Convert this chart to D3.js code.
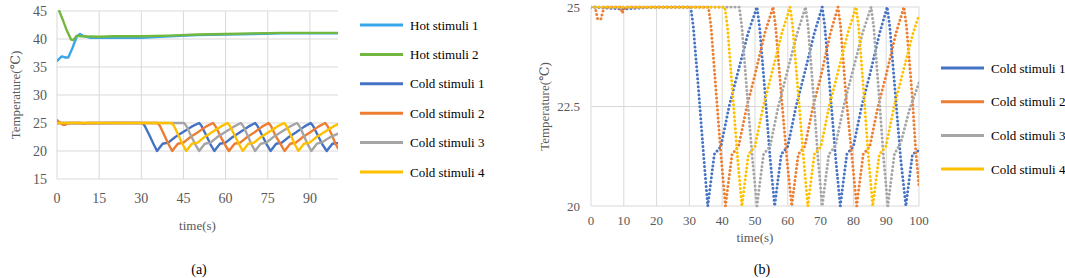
<!DOCTYPE html>
<html>
<head>
<meta charset="utf-8">
<script src="https://cdn.jsdelivr.net/npm/d3@7"></script>
<style>
  body { margin: 0; background: #fff; }
  svg text { font-family: 'Liberation Serif', 'DejaVu Serif', serif; }
</style>
</head>
<body>
<svg width="1065" height="278"></svg>
<script>
// axis ticks
const timeTicksA = [0, 15, 30, 45, 60, 75, 90];
const tempTicksA = [15, 20, 25, 30, 35, 40, 45];
const timeTicksB = [0, 10, 20, 30, 40, 50, 60, 70, 80, 90, 100];
const tempTicksB = [20, 22.5, 25];

const namesA = ["Hot stimuli 1", "Hot stimuli 2", "Cold stimuli 1", "Cold stimuli 2", "Cold stimuli 3", "Cold stimuli 4"];
const namesB = ["Cold stimuli 1", "Cold stimuli 2", "Cold stimuli 3", "Cold stimuli 4"];

// [time(s), temperature(℃)]
const hot1 = [[0,36.1],[1.7,36.9],[3,36.7],[4,36.7],[5.5,38.4],[7,40.4],[8.2,40.9],[9.5,40.5],[12,40.2],[20,40.2],[30,40.2],[40,40.5],[50,40.7],[60,40.8],[70,40.9],[80,41],[100,41]];
const hot2 = [[0.8,45],[2,43.5],[3.5,41.5],[5,39.9],[5.8,39.8],[7,40.6],[8.5,40.5],[15,40.4],[20,40.5],[30,40.5],[40,40.6],[50,40.8],[60,40.9],[70,41],[80,41.1],[100,41.1]];

const cold1 = [[0,25],[10,24.95],[20,25],[30.4,25],
  [31.2,24.5],[32.9,22.8],[34.4,21.2],[35.6,20],
  [36.2,20.4],[37.6,21.3],[39.6,21.5],[42.1,22.5],[44.6,23.3],[47.9,24.35],[50.6,25],
  [51.4,24.5],[53.1,22.8],[54.6,21.2],[56,20],
  [56.6,20.4],[58,21.3],[60,21.5],[62.5,22.5],[65,23.3],[68.1,24.35],[70.5,25],
  [71.3,24.5],[73,22.8],[74.6,21.2],[76,20],
  [76.6,20.4],[78,21.3],[80,21.5],[82.5,22.5],[85,23.3],[88,24.35],[90.3,25],
  [91.1,24.5],[92.8,22.8],[94.4,21.2],[96,20],
  [96.6,20.4],[98,21.3],[100,21.4]];

const cold2 = [[0,25.5],[1,25.1],[2,24.7],[3,24.7],[4,25],[9,25],[9.5,24.85],[10.5,25],[20,25],[35.8,25],
  [36.6,24.5],[38.2,22.8],[39.7,21.2],[41,20],
  [41.6,20.4],[43,21.3],[45,21.5],[47.5,22.5],[50,23.3],[53,24.35],[55.5,25],
  [56.3,24.5],[58,22.8],[59.7,21.2],[61.2,20],
  [61.8,20.4],[63.2,21.3],[65.2,21.5],[67.7,22.5],[70.2,23.3],[73,24.35],[75.3,25],
  [76.1,24.5],[77.7,22.8],[79.6,21.2],[81,20],
  [81.6,20.4],[83,21.3],[85,21.5],[87.5,22.5],[90,23.3],[93,24.35],[95.4,25],
  [96.2,24.5],[97.9,22.8],[99,21.4],[100,20.5]];

const cold3 = [[0,25],[20,25],[45.2,25],
  [46,24.5],[47.6,22.8],[49.2,21.2],[50.6,20],
  [51.2,20.4],[52.6,21.3],[54.6,21.5],[57.1,22.5],[59.6,23.3],[62.9,24.35],[65.4,25],
  [66.2,24.5],[67.8,22.8],[69.2,21.2],[70.5,20],
  [71.1,20.4],[72.5,21.3],[74.5,21.5],[77,22.5],[79.5,23.3],[82.8,24.35],[85.4,25],
  [86.2,24.5],[87.8,22.8],[89.2,21.2],[90.5,20],
  [91.1,20.4],[92.5,21.3],[94.5,21.6],[97,22.4],[100,23.1]];

const cold4 = [[0,25],[20,25],[40.8,25],
  [41.6,24.5],[43.2,22.8],[44.7,21.2],[46,20],
  [46.6,20.4],[48,21.3],[50,21.5],[52.5,22.5],[55,23.3],[58.2,24.35],[60.7,25],
  [61.5,24.5],[63.2,22.8],[64.8,21.2],[66.1,20],
  [66.7,20.4],[68.1,21.3],[70.1,21.5],[72.6,22.5],[75.1,23.3],[78.3,24.35],[80.8,25],
  [81.6,24.5],[83.2,22.8],[84.6,21.2],[85.9,20],
  [86.5,20.4],[87.9,21.3],[89.9,21.5],[92.4,22.5],[94.9,23.3],[98.2,24.35],[100,24.8]];

const colorsA = ["#3aa6ea", "#72b83e", "#4472c4", "#ed7d31", "#a5a5a5", "#ffc000"];
const colorsB = ["#4472c4", "#ed7d31", "#a5a5a5", "#ffc000"];
const font = "'Liberation Serif', 'DejaVu Serif', serif";

const svg = d3.select("svg");
svg.append("rect").attr("width", 1065).attr("height", 278).attr("fill", "#fff");

function drawPanel(o) {
  const x = d3.scaleLinear().domain(o.xDomain).range([o.left, o.right]);
  const y = d3.scaleLinear().domain(o.yDomain).range([o.bottom, o.top]);
  const g = svg.append("g").attr("font-family", font);

  // grid
  g.selectAll(".gx").data(o.xTicks).enter().append("line")
    .attr("x1", d => x(d)).attr("x2", d => x(d))
    .attr("y1", o.top).attr("y2", o.bottom)
    .attr("stroke", "#d9d9d9").attr("stroke-width", 1);
  g.selectAll(".gy").data(o.yTicks).enter().append("line")
    .attr("x1", o.left).attr("x2", o.right)
    .attr("y1", d => y(d)).attr("y2", d => y(d))
    .attr("stroke", "#d9d9d9").attr("stroke-width", 1);

  // tick labels
  g.selectAll(".tx").data(o.xTicks).enter().append("text")
    .attr("x", d => x(d)).attr("y", o.xLabelY)
    .attr("text-anchor", "middle").attr("font-size", o.tickSize).attr("fill", "#595959")
    .text(d => d);
  g.selectAll(".ty").data(o.yTicks).enter().append("text")
    .attr("x", o.yLabelX).attr("y", d => y(d)).attr("dy", "0.35em")
    .attr("text-anchor", "end").attr("font-size", o.tickSize).attr("fill", "#595959")
    .text(d => d);

  // axis titles
  g.append("text").attr("x", (o.left + o.right) / 2).attr("y", o.xTitleY)
    .attr("text-anchor", "middle").attr("font-size", 13).attr("fill", "#595959").text("time(s)");
  g.append("text")
    .attr("transform", `translate(${o.yTitleX},${(o.top + o.bottom) / 2}) rotate(-90)`)
    .attr("text-anchor", "middle").attr("font-size", 13).attr("fill", "#595959").text("Temperature(℃)");
  g.append("text").attr("x", o.capX).attr("y", 274)
    .attr("text-anchor", "middle").attr("font-size", 14).attr("fill", "#000").text(o.caption);

  // series
  const clipId = "clip" + o.caption.replace(/\W/g, "");
  svg.append("clipPath").attr("id", clipId).append("rect")
    .attr("x", o.left).attr("y", o.top - 1.5)
    .attr("width", o.right - o.left).attr("height", o.bottom - o.top + 3);
  const line = d3.line().x(d => x(d[0])).y(d => y(d[1]));
  g.append("g").attr("clip-path", `url(#${clipId})`)
    .selectAll("path").data(o.series).enter().append("path")
    .attr("d", d => line(d))
    .attr("fill", "none")
    .attr("stroke", (d, i) => o.colors[i])
    .attr("stroke-width", o.dotted ? 3 : 2.4)
    .attr("stroke-linecap", "round")
    .attr("stroke-linejoin", "round")
    .attr("stroke-dasharray", o.dotted ? "0 4" : null);

  // legend
  const lg = g.selectAll(".lg").data(o.names).enter().append("g")
    .attr("transform", (d, i) => `translate(0,${o.legTop + i * o.legStep})`);
  lg.append("line").attr("x1", o.legX).attr("x2", o.legX + 43)
    .attr("stroke", (d, i) => o.colors[i]).attr("stroke-width", 3);
  lg.append("text").attr("x", o.legX + 50).attr("dy", "0.35em")
    .attr("font-size", 13).attr("fill", "#000").text(d => d);
}

drawPanel({
  caption: "(a)", capX: 199,
  left: 57, right: 338, top: 11, bottom: 179,
  xDomain: [0, 100], yDomain: [15, 45],
  xTicks: timeTicksA, yTicks: tempTicksA, tickSize: 14,
  xLabelY: 203, yLabelX: 47, xTitleY: 230, yTitleX: 20,
  series: [hot1, hot2, cold1, cold2, cold3, cold4],
  colors: colorsA, names: namesA, dotted: false,
  legX: 360, legTop: 25, legStep: 29.4
});

drawPanel({
  caption: "(b)", capX: 762,
  left: 591, right: 919, top: 7, bottom: 206,
  xDomain: [0, 100], yDomain: [20, 25],
  xTicks: timeTicksB, yTicks: tempTicksB, tickSize: 13,
  xLabelY: 225, yLabelX: 580, xTitleY: 242, yTitleX: 549,
  series: [cold1, cold2, cold3, cold4],
  colors: colorsB, names: namesB, dotted: true,
  legX: 941, legTop: 68, legStep: 33.7
});
</script>
</body>
</html>
